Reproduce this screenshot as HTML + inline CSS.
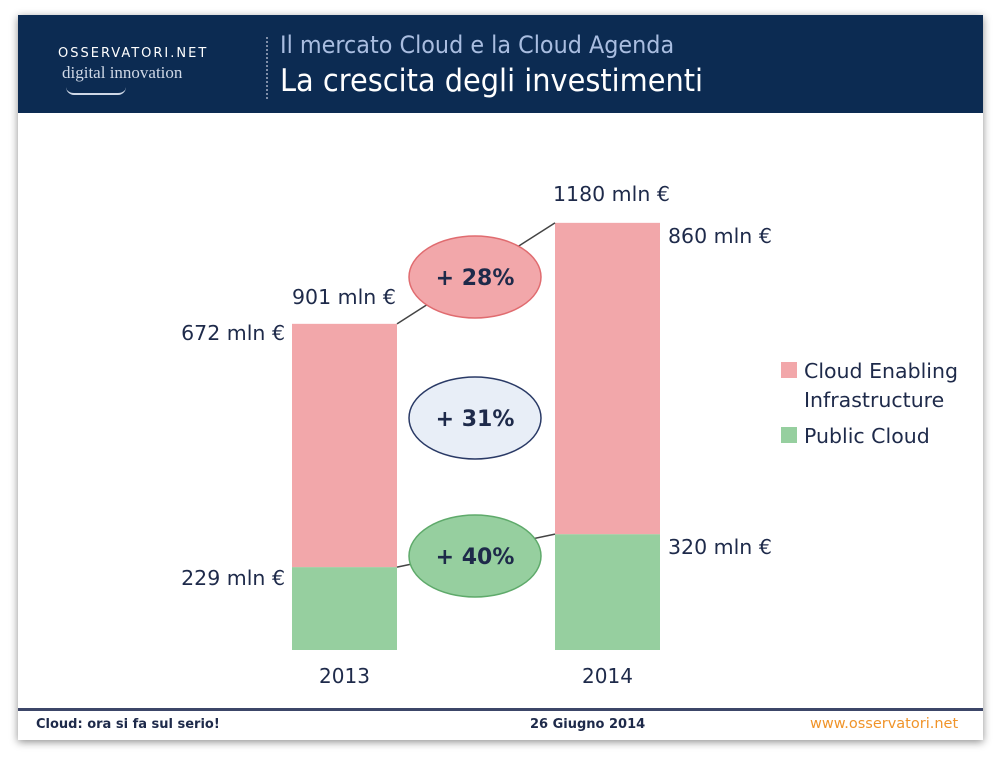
<!DOCTYPE html>
<html><head><meta charset="utf-8">
<style>
body{margin:0;width:1000px;height:759px;background:#fff;overflow:hidden;font-family:"DejaVu Sans","Liberation Sans",sans-serif}
#slide{position:absolute;left:18px;top:15px;width:965px;height:725px;background:#fff;box-shadow:0 2px 8px rgba(0,0,0,.45)}
#hdr{position:absolute;left:0;top:0;width:965px;height:98px;background:#0c2b52}
.t{position:absolute;white-space:nowrap}
</style></head><body>
<div id="slide">
 <div id="hdr">
  <div class="t" style="left:40px;top:31px;color:#fff;font-size:13px;letter-spacing:2px">OSSERVATORI.NET</div>
  <div class="t" style="left:44px;top:48px;color:#cfd8e6;font-family:'Liberation Serif',serif;font-size:17px">digital innovation</div>
  <div style="position:absolute;left:48px;top:72px;width:60px;height:6px;border-bottom:2px solid #cfd8e6;border-radius:0 0 40px 40px"></div>
  <div style="position:absolute;left:248px;top:22px;height:62px;border-left:2px dotted #7f8ea8"></div>
  <div class="t" style="left:262px;top:16px;color:#a9bde0;font-size:24px;transform:scaleX(.93);transform-origin:left">Il mercato Cloud e la Cloud Agenda</div>
  <div class="t" style="left:262px;top:48px;color:#fff;font-size:31px;transform:scaleX(.93);transform-origin:left">La crescita degli investimenti</div>
 </div>
 <div style="position:absolute;left:0;top:693px;width:965px;height:3px;background:#3c4668"></div>
 <div class="t" style="left:18px;top:702px;font-size:13px;font-weight:bold;color:#1e2a4a">Cloud: ora si fa sul serio!</div>
 <div class="t" style="left:512px;top:702px;font-size:13px;font-weight:bold;color:#1e2a4a">26 Giugno 2014</div>
 <div class="t" style="left:792px;top:701px;font-size:14.5px;color:#f0942a">www.osservatori.net</div>
</div>
<svg id="chart" width="1000" height="759" style="position:absolute;left:0;top:0"></svg>
<script>
const years=["2013","2014"];
const publicCloud=[229,320];
const infra=[672,860];
const totals=[901,1180];
const growth=["+ 28%","+ 31%","+ 40%"];
const NS="http://www.w3.org/2000/svg";
const svg=document.getElementById('chart');
const base=650, k=0.362;
function y(v){return base-v*k;}
const xs=[292,555], bw=105;
function mk(tag,attrs,txt){const e=document.createElementNS(NS,tag);for(const a in attrs)e.setAttribute(a,attrs[a]);if(txt!==undefined)e.textContent=txt;svg.appendChild(e);return e;}
const F='"DejaVu Sans","Liberation Sans",sans-serif';
years.forEach((yr,i)=>{
 const x=xs[i];
 const g=mk('rect',{x:x,y:y(publicCloud[i]),width:bw,height:publicCloud[i]*k,fill:'#96cf9f'});
 
 
 const p=mk('rect',{x:x,y:y(publicCloud[i]+infra[i]),width:bw,height:infra[i]*k,fill:'#f2a7aa'});
 
 
 const l=mk('text',{x:x+bw/2,y:683,'text-anchor':'middle','font-size':20,fill:'#1e2a4a','font-family':F},yr);
 
 
});
const lab=[
 [totals[0]+' mln €',292,y(totals[0])-20,'start'],
 [infra[0]+' mln €',285,y(totals[0])+16,'end'],
 [publicCloud[0]+' mln €',285,y(publicCloud[0])+18,'end'],
 [totals[1]+' mln €',553,y(totals[1])-22,'start'],
 [infra[1]+' mln €',668,y(totals[1])+20,'start'],
 [publicCloud[1]+' mln €',668,y(publicCloud[1])+20,'start']];
lab.forEach((a,i)=>{
 const t=mk('text',{x:a[1],y:a[2],'text-anchor':a[3],'font-size':20.5,fill:'#1e2a4a','font-family':F},a[0]);
 
 
});
[[y(totals[0]),y(totals[1])],[y(publicCloud[0]),y(publicCloud[1])]].forEach((c,i)=>{
 const ln=mk('line',{x1:397,y1:c[0],x2:555,y2:c[1],stroke:'#444',"stroke-width":1.5});
 
 
});
const ell=[[277,'#f2a7aa','#e06c70'],[418,'#e8eef7','#2a3a66'],[556,'#96cf9f','#5faa6b']];
ell.forEach((e,i)=>{
 const el=mk('ellipse',{cx:475,cy:e[0],rx:66,ry:41,fill:e[1],stroke:e[2],"stroke-width":1.5});
 
 
 const t=mk('text',{x:475,y:e[0]+8,'text-anchor':'middle','font-size':22,'font-weight':'bold',fill:'#1e2a4a','font-family':F},growth[i]);
 
 
});
[[362,'#f2a7aa',['Cloud Enabling','Infrastructure']],[427,'#96cf9f',['Public Cloud']]].forEach((L,i)=>{
 const r=mk('rect',{x:781,y:L[0],width:16,height:16,fill:L[1]});
 
 
 L[2].forEach((s,j)=>{
  const t=mk('text',{x:804,y:L[0]+16+j*29,'font-size':20.5,fill:'#1e2a4a','font-family':F},s);
  
  
 });
});
</script>
</body></html>
